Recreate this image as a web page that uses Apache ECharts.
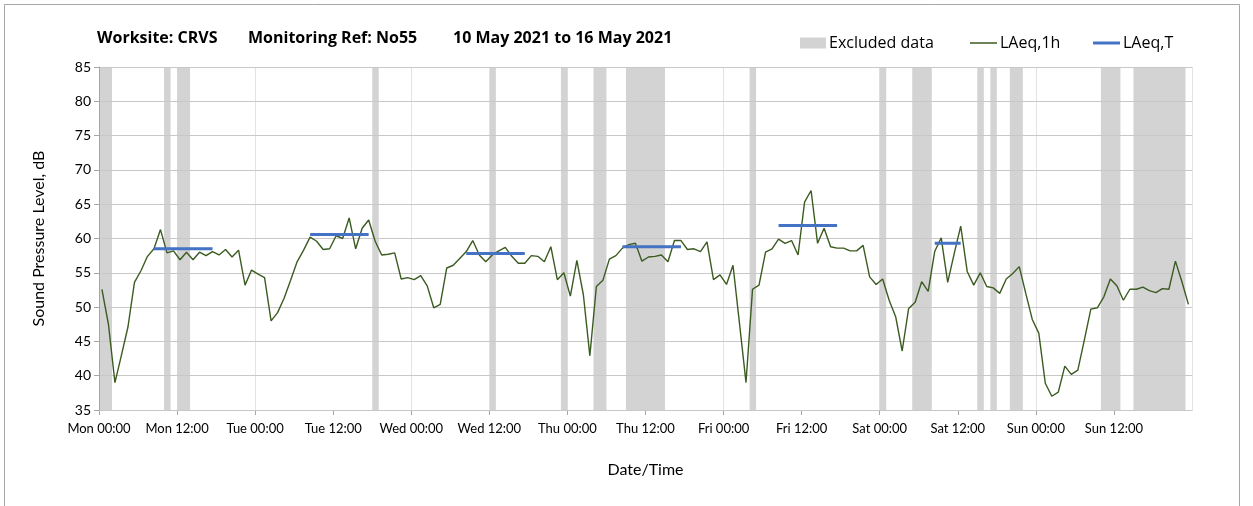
<!DOCTYPE html>
<html>
<head>
<meta charset="utf-8">
<script src="https://cdn.jsdelivr.net/npm/echarts@6/dist/echarts.min.js"></script>
<style>
html,body{margin:0;padding:0;background:#fff;}
#chart{width:1253px;height:506px;}
</style>
</head>
<body>
<div id="chart"></div>
<script>
// ---- Data ----
const dayNames = ['Mon', 'Tue', 'Wed', 'Thu', 'Fri', 'Sat', 'Sun'];
const tickTimes = ['00:00', '12:00'];
// first hourly reading offset (hours after Mon 00:00)
const firstReading = 0.45;
// LAeq,1h hourly values, Mon 00:00 -> Sun 23:00
const laeq1h = [
  52.6, 47.5, 39.0, 43.0, 47.1, 53.6, 55.3, 57.4, 58.5, 61.3,
  57.9, 58.2, 56.9, 58.0, 56.9, 58.0, 57.5, 58.1, 57.6, 58.4,
  57.3, 58.3, 53.2, 55.4, 54.8, 54.3, 48.0, 49.2, 51.3, 53.9,
  56.6, 58.3, 60.2, 59.6, 58.4, 58.5, 60.4, 60.0, 63.0, 58.5,
  61.5, 62.7, 59.6, 57.6, 57.7, 57.9, 54.1, 54.3, 54.0, 54.6,
  53.1, 49.9, 50.4, 55.7, 56.1, 57.1, 58.1, 59.7, 57.6, 56.6,
  57.6, 58.2, 58.7, 57.4, 56.4, 56.4, 57.5, 57.4, 56.6, 58.8,
  54.0, 55.0, 51.6, 56.8, 51.8, 42.9, 53.0, 53.9, 57.0, 57.5,
  58.6, 59.1, 59.3, 56.7, 57.3, 57.4, 57.6, 56.6, 59.7, 59.7,
  58.4, 58.5, 58.1, 59.5, 54.0, 54.7, 53.3, 56.1, 47.6, 39.0,
  52.6, 53.2, 58.0, 58.5, 59.9, 59.3, 59.7, 57.6, 65.3, 67.0,
  59.3, 61.5, 58.8, 58.6, 58.6, 58.2, 58.2, 59.0, 54.4, 53.3,
  54.1, 51.0, 48.6, 43.6, 49.8, 50.7, 53.7, 52.3, 58.1, 60.1,
  53.6, 57.8, 61.8, 55.2, 53.2, 55.0, 53.0, 52.8, 52.0, 54.1,
  54.9, 55.9, 52.0, 48.2, 46.2, 38.9, 37.0, 37.6, 41.4, 40.2,
  40.8, 45.2, 49.7, 49.9, 51.5, 54.1, 53.1, 51.0, 52.6, 52.6,
  52.9, 52.4, 52.1, 52.7, 52.6, 56.7, 53.7, 50.4
];
// LAeq,T periods (hour index of first and last reading) and values
const periodStart = [8, 32, 56, 80, 104, 128];
const periodEnd   = [17, 41, 65, 89, 113, 132];
const periodValue = [58.5, 60.6, 57.8, 58.8, 61.9, 59.3];
// Excluded data periods (hours after Mon 00:00)
const excludedStart = [0, 10, 12, 42, 60, 71, 76, 81, 100, 120, 125, 135, 137, 140, 154, 159];
const excludedEnd   = [2, 11, 14, 43, 61, 72, 78, 87, 101, 121, 128, 136, 138, 142, 157, 167];

// ---- Build ----
const lineData = laeq1h.map((v, i) => [i + firstReading, v]);
const tData = [];
periodStart.forEach((s, k) => {
  tData.push([s + firstReading, periodValue[k]]);
  tData.push([periodEnd[k] + firstReading, periodValue[k]]);
  tData.push([periodEnd[k] + firstReading + 0.01, '-']);
});
const bands = excludedStart.map((s, k) => [{ xAxis: s }, { xAxis: excludedEnd[k] }]);

const FONT = 'Lato, "Open Sans", sans-serif';
const LFONT = '"Open Sans", Lato, sans-serif';
const legendText = { fontSize: 16, color: '#000', fontFamily: LFONT, padding: [0, 0, 0, -2] };
const chart = echarts.init(document.getElementById('chart'), null, { renderer: 'canvas' });
chart.setOption({
  animation: false,
  textStyle: { fontFamily: FONT },
  graphic: [
    { type: 'rect', shape: { x: 4.5, y: 4.5, width: 1235, height: 540 }, style: { fill: 'none', stroke: '#a6a6a6', lineWidth: 1 }, z: 0 },
    { type: 'text', left: 97, top: 30, style: { text: 'Worksite: CRVS', font: 'bold 16px ' + LFONT, fill: '#000' } },
    { type: 'text', left: 248, top: 30, style: { text: 'Monitoring Ref: No55', font: 'bold 16px ' + LFONT, fill: '#000' } },
    { type: 'text', left: 453, top: 30, style: { text: '10 May 2021 to 16 May 2021', font: 'bold 16px ' + LFONT, fill: '#000' } }
  ],
  legend: [
    { left: 795, top: 30, itemWidth: 26, itemHeight: 11, selectedMode: false,
      textStyle: legendText, data: [{ name: 'Excluded data', icon: 'rect' }] },
    { left: 965, top: 30, itemWidth: 27, itemHeight: 1.5, selectedMode: false,
      textStyle: legendText, data: [{ name: 'LAeq,1h', icon: 'rect' }] },
    { left: 1088, top: 30, itemWidth: 27, itemHeight: 3, selectedMode: false,
      textStyle: legendText, data: [{ name: 'LAeq,T', icon: 'rect' }] }
  ],
  grid: { left: 99, right: 61, top: 67, bottom: 96 },
  xAxis: [
    {
      type: 'value', min: 0, max: 168, interval: 12,
      name: 'Date/Time', nameLocation: 'middle', nameGap: 52,
      nameTextStyle: { fontSize: 16, color: '#000', fontFamily: FONT },
      axisLine: { show: true, lineStyle: { color: '#a6a6a6', width: 1 } },
      axisTick: { show: true, length: 5, lineStyle: { color: '#a6a6a6' } },
      axisLabel: {
        fontSize: 13, color: '#000', margin: 12, showMaxLabel: false,
        formatter: v => {
          const k = Math.round(v / 12);
          return dayNames[Math.floor(k / 2) % 7] + ' ' + tickTimes[k % 2];
        }
      },
      splitLine: { show: false }
    },
    {
      type: 'value', min: 0, max: 168, interval: 24, position: 'bottom',
      axisLine: { show: false }, axisTick: { show: false }, axisLabel: { show: false },
      splitLine: { show: true, lineStyle: { color: '#e3e3e3', width: 1 } }
    }
  ],
  yAxis: {
    type: 'value', min: 35, max: 85, interval: 5, z: 3,
    name: 'Sound Pressure Level, dB', nameLocation: 'middle', nameGap: 52,
    nameTextStyle: { fontSize: 16, color: '#000', fontFamily: FONT },
    axisLine: { show: true, lineStyle: { color: '#a6a6a6', width: 1 } },
    axisTick: { show: true, length: 5, lineStyle: { color: '#a6a6a6' } },
    axisLabel: { fontSize: 14, color: '#000', margin: 8 },
    splitLine: { show: true, lineStyle: { color: '#c8c8c8', width: 1.2 } }
  },
  series: [
    {
      name: 'Excluded data', type: 'line', data: [], z: 1,
      itemStyle: { color: '#d3d3d3' }, lineStyle: { color: '#d3d3d3' },
      markArea: { silent: true, itemStyle: { color: '#d3d3d3' }, data: bands }
    },
    {
      name: 'LAeq,1h', type: 'line', data: lineData, z: 5,
      symbol: 'none', color: '#3b5b21', itemStyle: { color: '#3b5b21' },
      lineStyle: { color: '#3b5b21', width: 1.4 }
    },
    {
      name: 'LAeq,T', type: 'line', data: tData, z: 6,
      symbol: 'none', color: '#4472c4', connectNulls: false, itemStyle: { color: '#4472c4' },
      lineStyle: { color: '#4472c4', width: 3 }
    }
  ]
});
</script>
</body>
</html>
